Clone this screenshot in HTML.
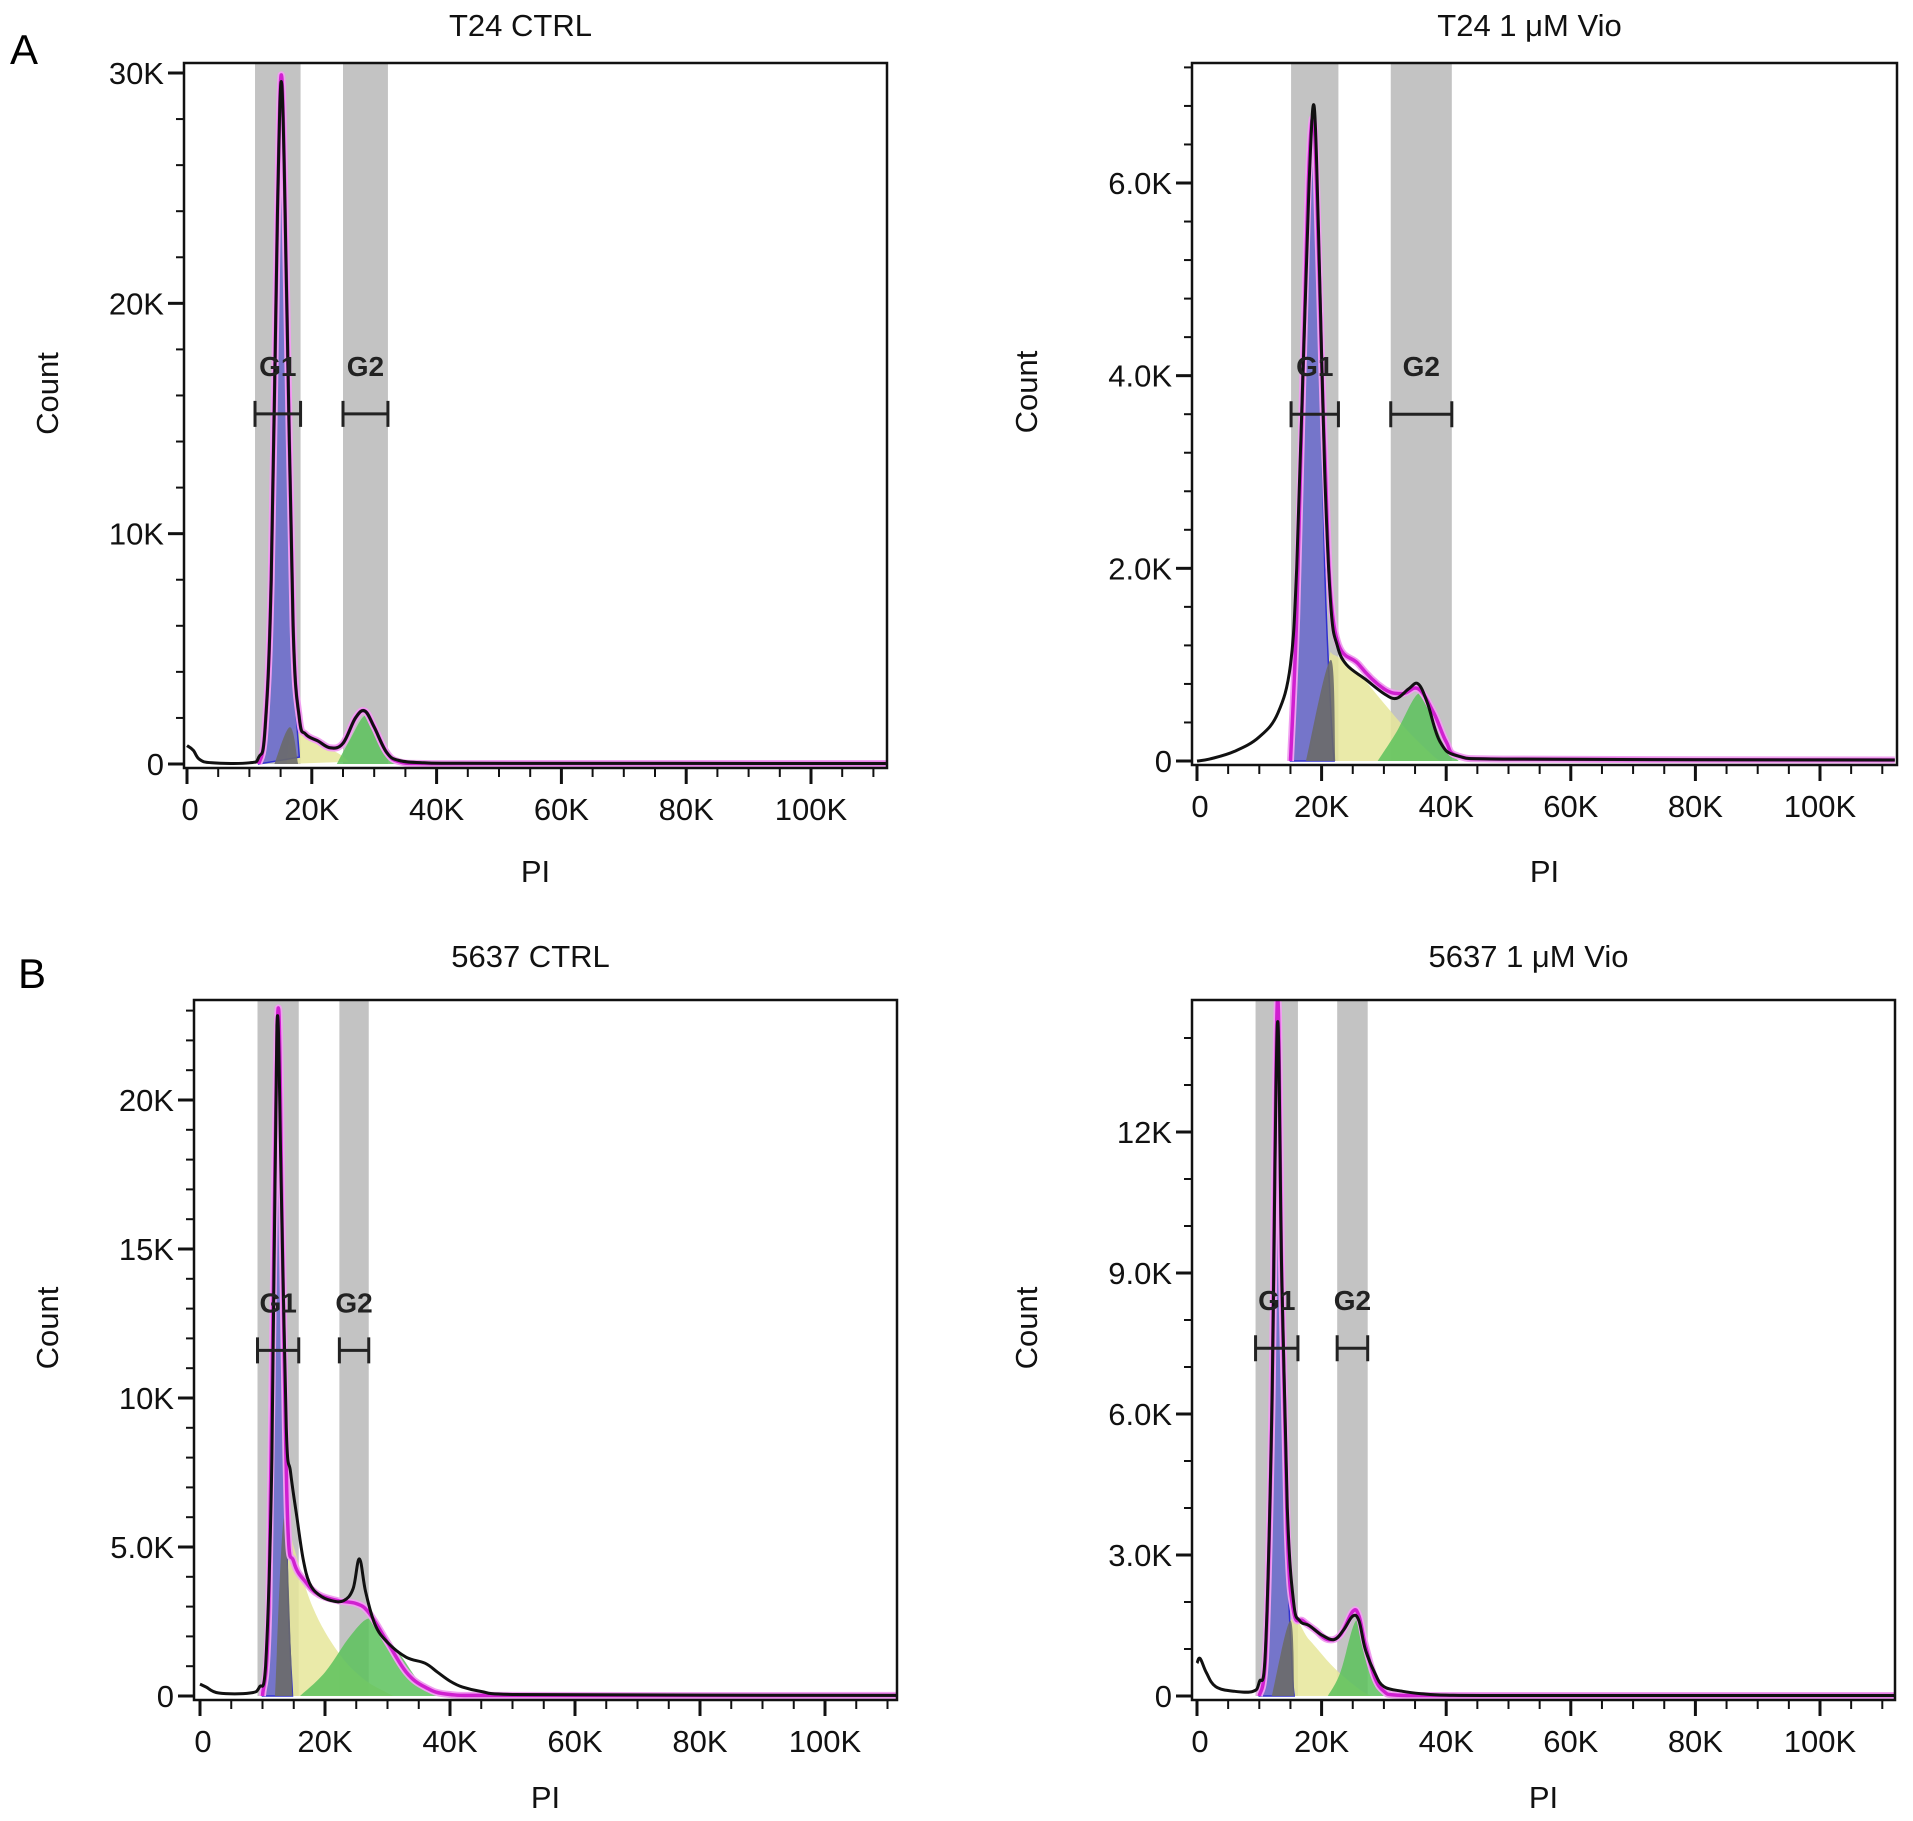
<!DOCTYPE html>
<html><head><meta charset="utf-8">
<style>
html,body{margin:0;padding:0;background:#fff;}
svg{display:block;font-family:"Liberation Sans",sans-serif;}
</style></head>
<body>
<svg id="fig" width="1913" height="1821" viewBox="0 0 1913 1821" xmlns="http://www.w3.org/2000/svg">
<text x="10" y="64" font-size="42">A</text>
<text x="18" y="988" font-size="42">B</text>
</svg>
<script>
// ---- Panel A1: T24 CTRL ----
const a1BlackX=[0,1,2,4,10,11.5,12.5,13.5,14.5,15.2,16,17,18,19,21,23,25,27,28.5,30,32,34,38,44,112];
const a1BlackY=[0.8,0.6,0.2,0.05,0.05,0.3,1.5,8,24,29.5,20,6,2,1.3,1.0,0.7,0.9,2.0,2.3,1.6,0.5,0.15,0.05,0.03,0.02];
const a1FitX=[11.5,12.5,13.5,14.5,15.2,16,17,18,19,21,23,25,27,28.5,30,32,34,38,50,112];
const a1FitY=[0,1.5,8,24,29.8,20,6,2,1.3,1.0,0.7,0.9,2.0,2.3,1.6,0.5,0.1,0.02,0.02,0.02];
const a1G1X=[11.5,12.5,13.5,14.5,15.2,16,17,18];
const a1G1Y=[0,1.2,7,21,26,17,5,0.3];
const a1SX=[16,17,20,24,26];
const a1SY=[0,1.5,1,0.5,0.1];
const a1GrayX=[14,16.5,17.8];
const a1GrayY=[0,1.6,0];
const a1G2X=[24,26,28.5,30,32,34];
const a1G2Y=[0,1,2.1,1.5,0.4,0];
const a1Gates=[[10.9,18.2],[25,32.2]];
// ---- Panel A2: T24 1 uM Vio ----
const a2BlackX=[0,2,6,10,13,15,16,17,18,18.8,19.5,20.5,21.5,22.5,24,27,30,32,34,35.5,37,39,42,50,112];
const a2BlackY=[0,0.02,0.1,0.25,0.5,1.0,2,4,6,6.8,5.5,3,1.6,1.2,1.0,0.85,0.7,0.65,0.75,0.8,0.6,0.2,0.05,0.02,0.01];
const a2FitX=[15,16,17,18,18.8,19.5,20.5,22,26,30,33,35.5,38,40,42,50,112];
const a2FitY=[0,1.5,4,6.2,6.6,5.3,3.2,1.4,1.0,0.75,0.7,0.75,0.5,0.2,0.05,0.02,0.01];
const a2G1X=[15,16.5,18,18.8,19.5,20.5,21.5,22];
const a2G1Y=[0,2,5.5,6.4,5,2,0.5,0];
const a2SX=[18,21,22,26,30,34,38,39];
const a2SY=[0,1.0,1.1,0.9,0.6,0.3,0.05,0];
const a2GrayX=[17.5,21.5,22.2];
const a2GrayY=[0,1.05,0];
const a2G2X=[29,32,35.5,37.5,40,42];
const a2G2Y=[0,0.3,0.7,0.55,0.15,0];
const a2Gates=[[15.1,22.7],[31.1,40.9]];
// ---- Panel B1: 5637 CTRL ----
const b1BlackX=[0,1,3,8,9.5,10.5,11.5,12.3,13,13.8,14.5,15.5,16.5,17.5,19,21,23,24.5,25.5,26.5,28,30,33,36,38,40,42,45,50,112];
const b1BlackY=[0.4,0.3,0.1,0.1,0.3,1,8,22.5,17,9,7.5,6,4.6,3.8,3.4,3.2,3.2,3.6,4.6,3.5,2.4,1.8,1.3,1.1,0.8,0.5,0.3,0.15,0.05,0.02];
const b1FitX=[10,11,12,12.6,13.2,14,15,17,19,22,25,27,30,33,36,40,50,112];
const b1FitY=[0,3,18,23,15,6,4.5,3.8,3.4,3.2,3.1,2.8,1.8,0.8,0.3,0.05,0.02,0.02];
const b1G1X=[10,11,12,12.6,13.2,14,14.8];
const b1G1Y=[0,2.5,17,22,14,4,0];
const b1SX=[12,13.5,15,18,22,26,30,31];
const b1SY=[0,6,5,3,1.5,0.6,0.1,0];
const b1GrayX=[12,13.5,14.8];
const b1GrayY=[0,6,0];
const b1G2X=[16,20,24,27,29,32,35,38];
const b1G2Y=[0,0.8,2,2.6,2.2,1.4,0.5,0];
const b1Gates=[[9.2,15.8],[22.3,27]];
// ---- Panel B2: 5637 1 uM Vio ----
const b2BlackX=[0,0.5,1.5,3,6,9,10,11,12,12.9,13.6,14.5,15.5,16.5,18,20,22,23.5,25,26,27,28.5,30,33,36,40,50,112];
const b2BlackY=[0.7,0.8,0.5,0.2,0.1,0.1,0.3,1,6,14.3,9,4,2,1.6,1.5,1.3,1.2,1.4,1.7,1.6,1.0,0.5,0.2,0.1,0.05,0.02,0.01,0.01];
const b2FitX=[10,11,12,12.9,13.6,14.5,15.5,17,19,21,23,25,26,27,28.5,30,32,40,112];
const b2FitY=[0,0.8,6,14.8,9,3.5,1.8,1.6,1.4,1.2,1.3,1.8,1.7,1.1,0.4,0.1,0.02,0.01,0.01];
const b2G1X=[10,11,12,12.9,13.6,14.5,15.3,15.6];
const b2G1Y=[0,0.7,5.5,14,8.5,3,0.5,0];
const b2SX=[12,15,18,22,26,28];
const b2SY=[0,1.6,1.2,0.6,0.15,0];
const b2GrayX=[12,15,15.6];
const b2GrayY=[0,1.6,0];
const b2G2X=[21,23,25.5,27,28.5,30];
const b2G2Y=[0,0.5,1.6,1.1,0.3,0];
const b2Gates=[[9.4,16.2],[22.5,27.4]];

// tick labels
const a1YTicks=[0,10,20,30]; const a1YLabels=["0","10K","20K","30K"];
const a2YTicks=[0,2,4,6]; const a2YLabels=["0","2.0K","4.0K","6.0K"];
const b1YTicks=[0,5,10,15,20]; const b1YLabels=["0","5.0K","10K","15K","20K"];
const b2YTicks=[0,3,6,9,12]; const b2YLabels=["0","3.0K","6.0K","9.0K","12K"];
const xTicks=[0,20,40,60,80,100]; const xLabels=["0","20K","40K","60K","80K","100K"];

const NS="http://www.w3.org/2000/svg";
const svg=document.getElementById('fig');
function mk(tag,attrs,parent){const e=document.createElementNS(NS,tag);for(const k in attrs)e.setAttribute(k,attrs[k]);(parent||svg).appendChild(e);return e;}

const panels=[
 {id:'t24-ctrl',title:'T24 CTRL',L:184,R:887,T:63,y0:764,yRef:30,yRefPx:73,x0:187,x100:811,ymax:31,yMinor:2,yT:a1YTicks,yL:a1YLabels,
  black:[a1BlackX,a1BlackY],fit:[a1FitX,a1FitY],g1:[a1G1X,a1G1Y],s:[a1SX,a1SY],gray:[a1GrayX,a1GrayY],g2:[a1G2X,a1G2Y],gates:a1Gates,barY:15.2,titleY:36,xlabY:882,countX:58},
 {id:'t24-vio',title:'T24 1 μM Vio',L:1192,R:1897,T:63,y0:761,yRef:6,yRefPx:183,x0:1197,x100:1820,ymax:7.2,yMinor:0.4,yT:a2YTicks,yL:a2YLabels,
  black:[a2BlackX,a2BlackY],fit:[a2FitX,a2FitY],g1:[a2G1X,a2G1Y],s:[a2SX,a2SY],gray:[a2GrayX,a2GrayY],g2:[a2G2X,a2G2Y],gates:a2Gates,barY:3.6,titleY:36,xlabY:882,countX:1037},
 {id:'5637-ctrl',title:'5637 CTRL',L:194,R:897,T:1000,y0:1696,yRef:20,yRefPx:1100,x0:200,x100:825,ymax:23.4,yMinor:1,yT:b1YTicks,yL:b1YLabels,
  black:[b1BlackX,b1BlackY],fit:[b1FitX,b1FitY],g1:[b1G1X,b1G1Y],s:[b1SX,b1SY],gray:[b1GrayX,b1GrayY],g2:[b1G2X,b1G2Y],gates:b1Gates,barY:11.6,titleY:967,xlabY:1808,countX:58},
 {id:'5637-vio',title:'5637 1 μM Vio',L:1192,R:1895,T:1000,y0:1696,yRef:12,yRefPx:1132,x0:1197,x100:1820,ymax:14.75,yMinor:1,yT:b2YTicks,yL:b2YLabels,
  black:[b2BlackX,b2BlackY],fit:[b2FitX,b2FitY],g1:[b2G1X,b2G1Y],s:[b2SX,b2SY],gray:[b2GrayX,b2GrayY],g2:[b2G2X,b2G2Y],gates:b2Gates,barY:7.4,titleY:967,xlabY:1808,countX:1037}
];

function smooth(pts,close,ymaxPx){
 let d='M'+pts[0][0].toFixed(1)+','+pts[0][1].toFixed(1);
 const cl=v=>Math.min(ymaxPx,v);
 for(let i=0;i<pts.length-1;i++){
  const p0=pts[Math.max(0,i-1)],p1=pts[i],p2=pts[i+1],p3=pts[Math.min(pts.length-1,i+2)];
  const t=0.18;
  let c1x=p1[0]+(p2[0]-p0[0])*t, c2x=p2[0]-(p3[0]-p1[0])*t;
  const lo=p1[0], hi=p2[0];
  c1x=Math.max(lo,Math.min(hi,c1x)); c2x=Math.max(lo,Math.min(hi,c2x));
  const c1y=cl(p1[1]+(p2[1]-p0[1])*t), c2y=cl(p2[1]-(p3[1]-p1[1])*t);
  d+='C'+c1x.toFixed(1)+','+c1y.toFixed(1)+' '+c2x.toFixed(1)+','+c2y.toFixed(1)+' '+p2[0].toFixed(1)+','+p2[1].toFixed(1);
 }
 if(close)d+='Z';
 return d;
}

panels.forEach(p=>{
 const g=mk('g',{});
 
 
 const xs=v=>p.x0+(p.x100-p.x0)*v/100;
 const ys=v=>p.y0-(p.y0-p.yRefPx)*v/p.yRef;
 const clipId='clip-'+p.id;
 const cp=mk('clipPath',{id:clipId},g); mk('rect',{x:p.L,y:p.T,width:p.R-p.L,height:p.y0+6-p.T},cp);
 const plot=mk('g',{'clip-path':'url(#'+clipId+')'},g);
 
 
 p.gates.forEach((gt,i)=>{
  const r=mk('rect',{x:xs(gt[0]),y:p.T,width:xs(gt[1])-xs(gt[0]),height:p.y0-p.T,fill:'#c3c3c3'},plot);
  
  
 });
 function path(arr,close){const pts=arr[0].map((x,i)=>[xs(x),Math.min(p.y0,ys(arr[1][i]))]);return smooth(pts,close,p.y0);}
 const fills=[['s','#e6e69a',0.85,'s-phase-fill'],['g2','#5cc25c',0.85,'g2-fill'],['g1','#6262cc',0.8,'g1-fill'],['gray','#6a6a6a',0.9,'overlap-fill']];
 fills.forEach(f=>{
  const e=mk('path',{d:path(p[f[0]],true),fill:f[1],'fill-opacity':f[2],stroke:f[0]=='g1'?'#3030d0':'none','stroke-width':1.5},plot);
  
  
 });
 const halo=mk('path',{d:path(p.fit),fill:'none',stroke:'#f0a0f0','stroke-width':7,'stroke-linejoin':'round'},plot);
 
 
 const fit=mk('path',{d:path(p.fit),fill:'none',stroke:'#d020d0','stroke-width':3.5,'stroke-linejoin':'round'},plot);
 
 
 const bl=mk('path',{d:path(p.black),fill:'none',stroke:'#111','stroke-width':3,'stroke-linejoin':'round'},plot);
 
 
 p.gates.forEach((gt,i)=>{
  const by=ys(p.barY), a=xs(gt[0]), b=xs(gt[1]);
  const m=mk('path',{d:`M${a},${by}H${b}M${a},${by-13}V${by+13}M${b},${by-13}V${by+13}`,stroke:'#222','stroke-width':3,fill:'none'},g);
  
  
  const t=mk('text',{x:(a+b)/2,y:by-38,'font-size':28,'font-weight':'bold','text-anchor':'middle',fill:'#222'},g);
  t.textContent=i?'G2':'G1';
  
  
 });
 const fr=mk('rect',{x:p.L,y:p.T,width:p.R-p.L,height:p.y0+4-p.T,fill:'none',stroke:'#111','stroke-width':2.5},g);
 
 
 for(let v=0;v<=p.ymax+1e-9;v+=p.yMinor){
  const tk=mk('line',{x1:p.L-8,x2:p.L,y1:ys(v),y2:ys(v),stroke:'#111','stroke-width':2},g);
  
  
 }
 p.yT.forEach((v,i)=>{
  const tk=mk('line',{x1:p.L-16,x2:p.L,y1:ys(v),y2:ys(v),stroke:'#111','stroke-width':3},g);
  
  
  const t=mk('text',{x:p.L-20,y:ys(v)+11,'font-size':31,'text-anchor':'end',fill:'#111'},g);
  t.textContent=p.yL[i];
  
  
 });
 const xb=p.y0+4;
 for(let v=0;v<=110;v+=5){
  const tk=mk('line',{x1:xs(v),x2:xs(v),y1:xb,y2:xb+(v%20==0?16:9),stroke:'#111','stroke-width':v%20==0?3:2},g);
  
  
 }
 xTicks.forEach((v,i)=>{
  const t=mk('text',{x:xs(v)+(v==0?3:0),y:xb+52,'font-size':31,'text-anchor':'middle',fill:'#111'},g);
  t.textContent=xLabels[i];
  
  
 });
 const xt=mk('text',{x:(p.L+p.R)/2,y:p.xlabY,'font-size':31,'text-anchor':'middle',fill:'#111'},g);
 xt.textContent='PI';
 
 
 const cy=(p.T+p.y0)/2-20;
 const yt=mk('text',{x:p.countX,y:cy,'font-size':31,'text-anchor':'middle',fill:'#111',transform:`rotate(-90 ${p.countX} ${cy})`},g);
 yt.textContent='Count';
 
 
 const tt=mk('text',{x:(p.L+p.R)/2-15,y:p.titleY,'font-size':31,'text-anchor':'middle',fill:'#111'},g);
 tt.textContent=p.title;
 
 
});
</script>
</body></html>
